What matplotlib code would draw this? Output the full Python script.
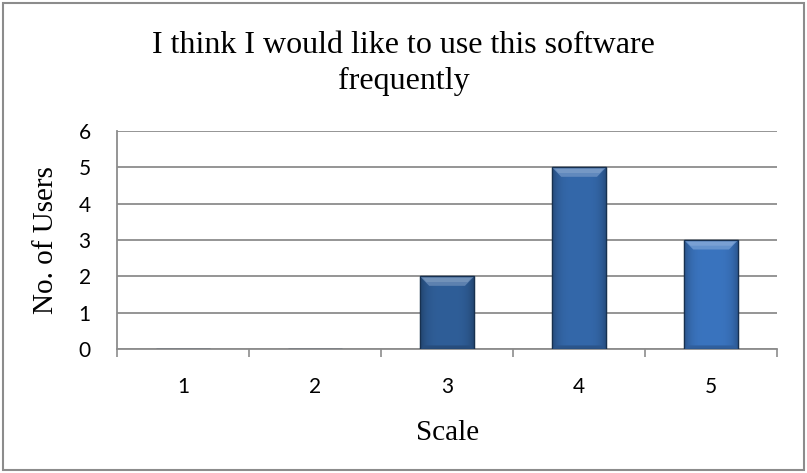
import numpy as np
import matplotlib
matplotlib.use("Agg")
import matplotlib.pyplot as plt
from matplotlib.patches import Rectangle, Polygon
from matplotlib.colors import to_rgb

# Data
categories = ["1", "2", "3", "4", "5"]
users = [0, 0, 2, 5, 3]
yticks = [0, 1, 2, 3, 4, 5, 6]
title = "I think I would like to use this software\nfrequently"
xlabel = "Scale"
ylabel = "No. of Users"

bar_colors = ["#2c5a91", "#2f5f99", "#2f5e98", "#3468aa", "#3a74bf"]

fig = plt.figure(figsize=(8.07, 4.73), dpi=100)
ax = fig.add_axes([0.145, 0.262, 0.818, 0.461])

x = np.arange(len(categories))
bars = ax.bar(x, users, width=0.41, color=bar_colors, edgecolor="#17304f",
              linewidth=0.9, zorder=3)


def shade(c, f):
    r, g, b = to_rgb(c)
    if f >= 0:
        return (r + (1 - r) * f, g + (1 - g) * f, b + (1 - b) * f)
    return (r * (1 + f), g * (1 + f), b * (1 + f))


# Beveled look: side shading plus a lighter top facet on each bar
for patch, col in zip(bars, bar_colors):
    h = patch.get_height()
    if h <= 0:
        continue
    x0 = patch.get_x()
    w = patch.get_width()
    t = np.linspace(-1, 1, 64)
    prof = -0.28 * np.abs(t) ** 4
    img = np.array([[shade(col, p) for p in prof]])
    im = ax.imshow(img, extent=[x0, x0 + w, 0, h], aspect="auto",
                   zorder=3.5, interpolation="bicubic")
    im.set_clip_path(patch)
    inset = w * 0.17
    bh = 0.26
    top = Polygon([(x0, h), (x0 + w, h), (x0 + w - inset, h - bh),
                   (x0 + inset, h - bh)], closed=True,
                  facecolor=shade(col, 0.22), edgecolor="none", zorder=3.6)
    ax.add_patch(top)
    top_hi = Polygon([(x0 + inset * 0.3, h - bh * 0.15),
                      (x0 + w - inset * 0.3, h - bh * 0.15),
                      (x0 + w - inset * 0.7, h - bh * 0.6),
                      (x0 + inset * 0.7, h - bh * 0.6)], closed=True,
                     facecolor=shade(col, 0.32), edgecolor="none", zorder=3.65)
    ax.add_patch(top_hi)
    bottom = Polygon([(x0, 0), (x0 + w, 0), (x0 + w - inset * 0.5, 0.1),
                      (x0 + inset * 0.5, 0.1)], closed=True,
                     facecolor=shade(col, -0.18), edgecolor="none", zorder=3.6)
    ax.add_patch(bottom)
    outline = Rectangle((x0, 0), w, h, facecolor="none", edgecolor="#17304f",
                        linewidth=0.9, zorder=3.8)
    ax.add_patch(outline)

ax.set_xlim(-0.5, len(categories) - 0.5)
ax.set_ylim(0, 6)
ax.set_yticks(yticks)
ax.set_yticklabels([str(v) for v in yticks], fontsize=15, family="Lato")
ax.yaxis.grid(True, color="#8c8c8c", linewidth=1.3, zorder=0)
ax.set_axisbelow(True)

# x ticks sit on category boundaries, labels at category centres
ax.set_xticks(np.arange(len(categories) + 1) - 0.5)
ax.set_xticklabels([])
ax.set_xticks(x, minor=True)
ax.set_xticklabels(categories, minor=True, fontsize=15, family="Lato")
ax.tick_params(axis="x", which="major", length=6, width=1.2, color="#8c8c8c",
               direction="out")
ax.tick_params(axis="x", which="minor", length=0, pad=20)
ax.tick_params(axis="y", length=0, pad=19)

for s in ["top", "right"]:
    ax.spines[s].set_visible(False)
for s in ["left", "bottom"]:
    ax.spines[s].set_color("#8c8c8c")
    ax.spines[s].set_linewidth(1.3)

ax.set_xlabel(xlabel, fontsize=21, family="Liberation Serif", labelpad=17)
ax.set_ylabel(ylabel, fontsize=21, family="Liberation Serif", labelpad=14)

fig.text(0.5, 0.866, title, ha="center", va="center", fontsize=23,
         family="Liberation Serif", linespacing=1.3)

# chart border
fig.add_artist(Rectangle((0.004, 0.006), 0.992, 0.988, transform=fig.transFigure,
                         facecolor="none", edgecolor="#8c8c8c", linewidth=1.5))

fig.savefig("out.png", dpi=100)
